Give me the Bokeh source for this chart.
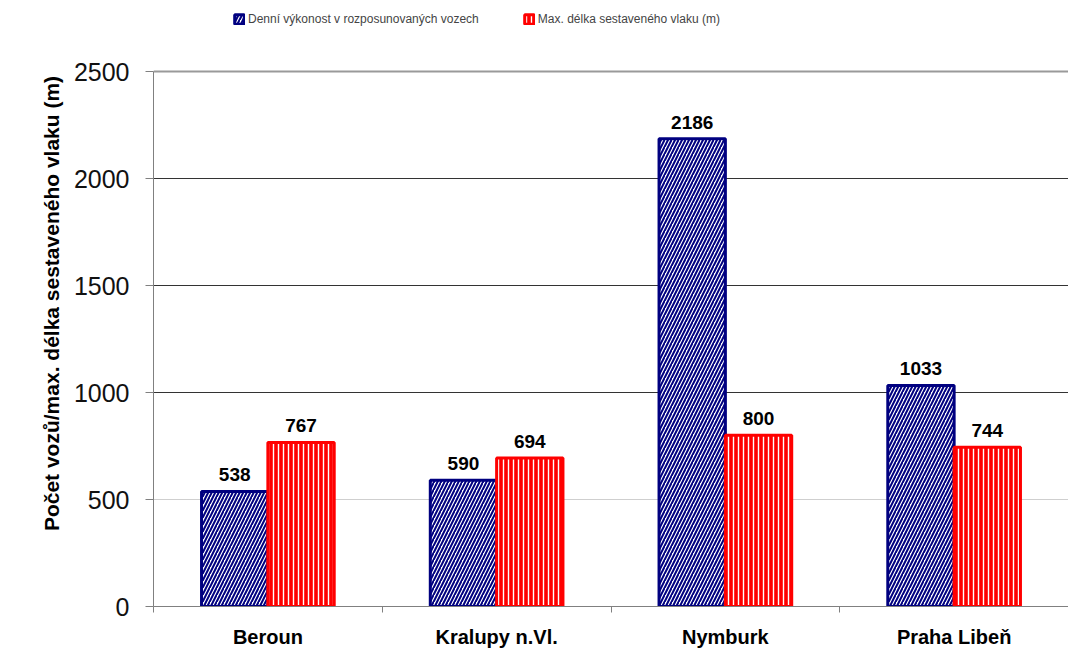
from bokeh.plotting import figure
from bokeh.models import (ColumnDataSource, FactorRange, Range1d, FixedTicker, Grid,
                          LinearAxis, CategoricalAxis, Legend, LegendItem, LabelSet)
from bokeh.core.properties import value
from bokeh.transform import dodge
from bokeh.embed import file_html
from bokeh.resources import INLINE

categories = ["Beroun", "Kralupy n.Vl.", "Nymburk", "Praha Libeň"]
daily_cars = [538, 590, 2186, 1033]
max_train_len = [767, 694, 800, 744]
y_ticks = [0, 500, 1000, 1500, 2000, 2500]
series_names = ["Denní výkonost v rozposunovaných vozech", "Max. délka sestaveného vlaku (m)"]
y_title = "Počet vozů/max. délka sestaveného vlaku (m)"

FONT = "Liberation Sans"
NAVY = "#000080"
RED = "#ff0000"

src = ColumnDataSource(dict(
    cat=categories,
    daily=daily_cars,
    maxlen=max_train_len,
    daily_txt=[str(v) for v in daily_cars],
    maxlen_txt=[str(v) for v in max_train_len],
))

# frame spans the whole height above the x axis (room for the legend on top);
# the axis line is bounded to 0..2500
p = figure(width=1068, height=650, x_range=FactorRange(*categories, range_padding=0),
           y_range=Range1d(0, 2832), output_backend="svg", toolbar_location=None,
           x_axis_location=None, y_axis_location=None,
           min_border_left=153, min_border_right=0, min_border_top=0, min_border_bottom=44)
p.outline_line_color = None
p.background_fill_color = "white"
p.xgrid.grid_line_color = None
p.ygrid.grid_line_color = None

# y axis
yax = LinearAxis(ticker=FixedTicker(ticks=y_ticks), axis_label=y_title, bounds=(0, 2500))
yax.axis_line_color = "#808080"
yax.major_tick_line_color = "#808080"
yax.major_tick_out = 8
yax.major_tick_in = 0
yax.minor_tick_line_color = None
yax.major_label_standoff = 16
yax.major_label_text_font = FONT
yax.major_label_text_font_size = "25px"
yax.major_label_text_color = "#111111"
yax.axis_label_text_font = FONT
yax.axis_label_text_font_style = "bold"
yax.axis_label_text_font_size = "21px"
yax.axis_label_text_color = "#000000"
yax.axis_label_standoff = 8
p.add_layout(yax, "left")

# x axis line with ticks at category boundaries (minor ticks only, no labels)
tax = LinearAxis(ticker=FixedTicker(ticks=[], minor_ticks=[0, 1, 2, 3, 4]))
tax.axis_line_color = "#808080"
tax.major_tick_line_color = None
tax.major_tick_out = 0
tax.major_tick_in = 0
tax.minor_tick_line_color = "#808080"
tax.minor_tick_out = 6
tax.minor_tick_in = 0
tax.major_label_standoff = 0
p.add_layout(tax, "below")

xax = CategoricalAxis()
xax.axis_line_color = None
xax.major_tick_line_color = None
xax.minor_tick_line_color = None
xax.major_label_standoff = 7
xax.major_label_text_font = FONT
xax.major_label_text_font_style = "bold"
xax.major_label_text_font_size = "20px"
xax.major_label_text_color = "#000000"
p.add_layout(xax, "below")

# gridlines
p.add_layout(Grid(dimension=1, ticker=FixedTicker(ticks=[1000, 1500, 2000]), grid_line_color="#333333"))
p.add_layout(Grid(dimension=1, ticker=FixedTicker(ticks=[500]), grid_line_color="#cfcfcf"))
p.add_layout(Grid(dimension=1, ticker=FixedTicker(ticks=[2500]), grid_line_color="#9a9a9a", grid_line_width=2))

bw = 0.29
r1 = p.vbar(x=dodge("cat", -0.145, range=p.x_range), top="daily", width=bw, source=src,
            fill_color="white", hatch_pattern="right_diagonal_line", hatch_color=NAVY,
            hatch_scale=7, hatch_weight=2, line_color=NAVY, line_width=3)
r2 = p.vbar(x=dodge("cat", 0.145, range=p.x_range), top="maxlen", width=bw, source=src,
            fill_color=RED, hatch_pattern="vertical_line", hatch_color="white",
            hatch_scale=5, hatch_weight=1.4, line_color=RED, line_width=3)

for field, off in (("daily", -0.145), ("maxlen", 0.145)):
    ls = LabelSet(x=dodge("cat", off, range=p.x_range), y=field, text=field + "_txt", source=src,
                  text_align="center", text_baseline="bottom", y_offset=10,
                  text_font=value(FONT), text_font_style="bold", text_font_size="19px",
                  text_color="#000000")
    p.add_layout(ls)

legend = Legend(items=[LegendItem(label=series_names[0], renderers=[r1]),
                       LegendItem(label=series_names[1], renderers=[r2])],
                location=(80, 580), orientation="horizontal",
                glyph_width=12, glyph_height=12, label_height=14, label_standoff=3,
                spacing=44, padding=0, margin=0,
                label_text_font=FONT, label_text_font_size="12px",
                border_line_color=None, background_fill_alpha=0)
p.add_layout(legend, "center")

open("out.html", "w").write(file_html(p, INLINE))
